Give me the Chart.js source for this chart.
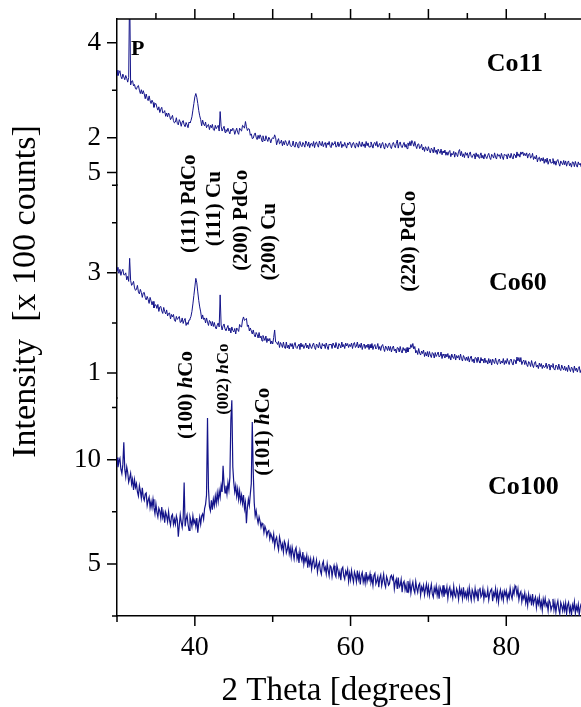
<!DOCTYPE html>
<html>
<head>
<meta charset="utf-8">
<script src="https://cdn.jsdelivr.net/npm/chart.js@4.4.1/dist/chart.umd.min.js"></script>
<style>
  html, body { margin: 0; padding: 0; background: #fff; overflow: hidden; }
  #xrd { display: block; }
</style>
</head>
<body>
<canvas id="xrd" width="581" height="707"></canvas>
<script>
// scan grid: 2-theta from 30 deg in 0.125 deg steps
const START = 30, STEP = 0.125;

// intensities in hundreds of counts, one row per 2.5 deg
const co11 = [
  3.42, 3.31, 3.36, 3.41, 3.29, 3.24, 3.34, 3.28, 3.22, 3.31, 3.25, 3.17, 3.27, 5.20, 3.11, 3.19, 3.20, 3.09, 3.12, 3.03,
  3.02, 3.08, 3.10, 3.00, 2.93, 3.01, 2.92, 2.99, 2.92, 2.82, 2.92, 2.83, 2.78, 2.88, 2.78, 2.72, 2.79, 2.74, 2.64, 2.71,
  2.72, 2.64, 2.58, 2.65, 2.53, 2.60, 2.64, 2.52, 2.53, 2.57, 2.45, 2.52, 2.44, 2.52, 2.47, 2.38, 2.42, 2.47, 2.36, 2.31,
  2.33, 2.42, 2.30, 2.27, 2.38, 2.33, 2.24, 2.33, 2.36, 2.27, 2.23, 2.32, 2.27, 2.21, 2.33, 2.31, 2.36, 2.44, 2.58, 2.72,
  2.86, 2.93, 2.85, 2.72, 2.57, 2.46, 2.38, 2.25, 2.37, 2.29, 2.25, 2.33, 2.21, 2.26, 2.28, 2.17, 2.26, 2.21, 2.28, 2.17,
  2.15, 2.26, 2.19, 2.23, 2.26, 2.14, 2.55, 2.24, 2.14, 2.19, 2.24, 2.11, 2.17, 2.13, 2.20, 2.13, 2.08, 2.18, 2.14, 2.20,
  2.17, 2.07, 2.14, 2.20, 2.11, 2.07, 2.20, 2.16, 2.14, 2.26, 2.24, 2.20, 2.34, 2.23, 2.15, 2.19, 2.18, 2.05, 2.08, 1.98,
  1.99, 2.06, 2.10, 2.01, 1.96, 2.05, 1.98, 2.06, 2.01, 1.92, 2.04, 1.96, 1.93, 2.04, 1.97, 1.92, 2.01, 1.97, 1.89, 1.97,
  2.00, 1.98, 2.06, 2.00, 1.85, 1.93, 1.98, 1.87, 1.89, 1.95, 1.83, 1.92, 1.85, 1.94, 1.90, 1.83, 1.87, 1.94, 1.84, 1.81,
  1.83, 1.93, 1.82, 1.80, 1.91, 1.87, 1.79, 1.89, 1.92, 1.84, 1.81, 1.90, 1.86, 1.80, 1.93, 1.88, 1.82, 1.91, 1.79, 1.87,
  1.88, 1.82, 1.92, 1.79, 1.89, 1.91, 1.84, 1.80, 1.93, 1.86, 1.83, 1.92, 1.81, 1.87, 1.90, 1.79, 1.89, 1.85, 1.92, 1.82,
  1.79, 1.90, 1.84, 1.88, 1.92, 1.80, 1.82, 1.91, 1.81, 1.87, 1.92, 1.79, 1.86, 1.82, 1.90, 1.83, 1.78, 1.89, 1.85, 1.91,
  1.88, 1.79, 1.87, 1.90, 1.83, 1.78, 1.89, 1.86, 1.80, 1.92, 1.84, 1.81, 1.91, 1.82, 1.87, 1.79, 1.92, 1.83, 1.89, 1.80,
  1.81, 1.91, 1.85, 1.78, 1.88, 1.90, 1.83, 1.92, 1.80, 1.84, 1.88, 1.78, 1.86, 1.90, 1.81, 1.76, 1.88, 1.84, 1.79, 1.86,
  1.89, 1.81, 1.77, 1.86, 1.90, 1.83, 1.79, 1.88, 1.95, 1.78, 1.87, 1.91, 1.82, 1.79, 1.85, 1.90, 1.80, 1.86, 1.77, 1.89,
  1.83, 1.92, 1.83, 1.94, 1.89, 1.82, 1.92, 1.83, 1.77, 1.86, 1.87, 1.77, 1.80, 1.86, 1.74, 1.80, 1.71, 1.81, 1.77, 1.72,
  1.81, 1.73, 1.68, 1.78, 1.75, 1.68, 1.80, 1.69, 1.74, 1.65, 1.76, 1.71, 1.67, 1.76, 1.64, 1.72, 1.68, 1.74, 1.63, 1.70,
  1.63, 1.70, 1.73, 1.60, 1.67, 1.64, 1.71, 1.59, 1.69, 1.65, 1.60, 1.71, 1.75, 1.62, 1.71, 1.60, 1.66, 1.58, 1.69, 1.63,
  1.68, 1.57, 1.65, 1.70, 1.60, 1.58, 1.64, 1.66, 1.55, 1.68, 1.60, 1.65, 1.57, 1.62, 1.68, 1.57, 1.63, 1.55, 1.66, 1.60,
  1.56, 1.63, 1.67, 1.58, 1.54, 1.65, 1.62, 1.57, 1.68, 1.59, 1.55, 1.66, 1.61, 1.64, 1.56, 1.67, 1.60, 1.54, 1.65, 1.63,
  1.64, 1.55, 1.66, 1.61, 1.57, 1.67, 1.59, 1.55, 1.66, 1.63, 1.58, 1.70, 1.61, 1.66, 1.59, 1.70, 1.65, 1.70, 1.62, 1.67,
  1.62, 1.68, 1.57, 1.65, 1.67, 1.57, 1.59, 1.67, 1.54, 1.60, 1.55, 1.63, 1.49, 1.57, 1.59, 1.50, 1.57, 1.51, 1.58, 1.46,
  1.55, 1.48, 1.57, 1.44, 1.51, 1.55, 1.46, 1.48, 1.56, 1.44, 1.51, 1.42, 1.51, 1.54, 1.46, 1.40, 1.51, 1.47, 1.43, 1.52,
  1.43, 1.51, 1.40, 1.48, 1.51, 1.41, 1.46, 1.38, 1.49, 1.48, 1.39, 1.50, 1.42, 1.38, 1.49, 1.43, 1.46, 1.38, 1.49, 1.40,
  1.44
];
const co60 = [
  3.11, 3.04, 2.99, 3.07, 2.95, 3.03, 3.07, 2.96, 2.96, 3.00, 2.86, 2.93, 2.83, 3.29, 2.85, 2.75, 2.78, 2.83, 2.70, 2.65,
  2.67, 2.75, 2.62, 2.58, 2.67, 2.61, 2.51, 2.60, 2.61, 2.51, 2.46, 2.53, 2.47, 2.39, 2.51, 2.44, 2.36, 2.43, 2.30, 2.36,
  2.36, 2.29, 2.37, 2.23, 2.32, 2.33, 2.24, 2.19, 2.31, 2.23, 2.18, 2.26, 2.14, 2.19, 2.20, 2.08, 2.17, 2.12, 2.17, 2.06,
  2.03, 2.13, 2.07, 2.10, 2.13, 2.01, 2.02, 2.10, 1.99, 2.05, 2.09, 1.95, 2.01, 1.97, 2.06, 2.08, 2.13, 2.23, 2.38, 2.55,
  2.72, 2.89, 2.80, 2.62, 2.45, 2.32, 2.22, 2.08, 2.16, 2.07, 2.10, 2.00, 2.10, 2.02, 1.95, 2.05, 2.02, 1.94, 2.03, 1.93,
  2.01, 1.92, 1.88, 1.96, 2.00, 1.92, 2.56, 1.96, 1.86, 1.94, 1.98, 1.88, 1.85, 1.90, 1.95, 1.84, 1.90, 1.80, 1.92, 1.85,
  1.82, 1.89, 1.78, 1.90, 1.87, 1.83, 1.97, 1.93, 1.92, 2.06, 2.12, 2.05, 2.07, 2.09, 1.93, 1.96, 1.84, 1.90, 1.84, 1.78,
  1.86, 1.77, 1.72, 1.81, 1.77, 1.70, 1.81, 1.70, 1.74, 1.64, 1.75, 1.70, 1.65, 1.74, 1.61, 1.69, 1.64, 1.69, 1.58, 1.64,
  1.58, 1.71, 1.86, 1.62, 1.61, 1.57, 1.63, 1.51, 1.61, 1.57, 1.51, 1.62, 1.52, 1.49, 1.62, 1.50, 1.56, 1.48, 1.59, 1.53,
  1.59, 1.48, 1.56, 1.61, 1.51, 1.49, 1.55, 1.58, 1.47, 1.60, 1.52, 1.57, 1.49, 1.54, 1.60, 1.50, 1.56, 1.48, 1.59, 1.53,
  1.49, 1.56, 1.60, 1.51, 1.47, 1.58, 1.55, 1.50, 1.61, 1.52, 1.48, 1.59, 1.54, 1.57, 1.49, 1.60, 1.53, 1.47, 1.58, 1.56,
  1.58, 1.49, 1.60, 1.55, 1.51, 1.61, 1.53, 1.48, 1.59, 1.56, 1.50, 1.62, 1.52, 1.57, 1.49, 1.60, 1.54, 1.59, 1.51, 1.57,
  1.53, 1.60, 1.49, 1.58, 1.61, 1.51, 1.54, 1.62, 1.50, 1.57, 1.51, 1.60, 1.47, 1.55, 1.58, 1.49, 1.56, 1.51, 1.58, 1.47,
  1.57, 1.50, 1.59, 1.47, 1.54, 1.57, 1.48, 1.51, 1.59, 1.47, 1.53, 1.45, 1.54, 1.57, 1.49, 1.43, 1.54, 1.50, 1.45, 1.54,
  1.45, 1.53, 1.42, 1.50, 1.54, 1.44, 1.48, 1.40, 1.51, 1.50, 1.42, 1.53, 1.44, 1.40, 1.51, 1.45, 1.49, 1.40, 1.51, 1.42,
  1.50, 1.48, 1.57, 1.51, 1.59, 1.48, 1.53, 1.40, 1.45, 1.37, 1.49, 1.40, 1.36, 1.44, 1.39, 1.46, 1.33, 1.41, 1.34, 1.43,
  1.32, 1.43, 1.36, 1.31, 1.41, 1.39, 1.30, 1.41, 1.33, 1.37, 1.42, 1.32, 1.34, 1.42, 1.29, 1.38, 1.35, 1.30, 1.38, 1.32,
  1.39, 1.29, 1.35, 1.26, 1.38, 1.32, 1.29, 1.38, 1.26, 1.35, 1.30, 1.35, 1.26, 1.38, 1.29, 1.24, 1.35, 1.31, 1.25, 1.32,
  1.25, 1.33, 1.22, 1.30, 1.34, 1.23, 1.28, 1.20, 1.31, 1.30, 1.21, 1.32, 1.24, 1.20, 1.31, 1.24, 1.28, 1.20, 1.30, 1.21,
  1.25, 1.18, 1.29, 1.20, 1.27, 1.16, 1.28, 1.23, 1.19, 1.30, 1.21, 1.17, 1.26, 1.28, 1.18, 1.24, 1.20, 1.29, 1.17, 1.25,
  1.19, 1.29, 1.22, 1.17, 1.26, 1.28, 1.20, 1.16, 1.27, 1.25, 1.19, 1.32, 1.24, 1.31, 1.22, 1.31, 1.17, 1.23, 1.26, 1.17,
  1.25, 1.17, 1.13, 1.23, 1.20, 1.13, 1.25, 1.16, 1.11, 1.20, 1.23, 1.12, 1.16, 1.09, 1.20, 1.13, 1.19, 1.09, 1.16, 1.11,
  1.12, 1.20, 1.09, 1.15, 1.18, 1.06, 1.16, 1.12, 1.19, 1.08, 1.06, 1.16, 1.14, 1.07, 1.18, 1.08, 1.05, 1.16, 1.10, 1.06,
  1.14, 1.05, 1.11, 1.03, 1.16, 1.08, 1.03, 1.12, 1.09, 1.01, 1.14, 1.05, 1.10, 1.02, 1.09, 1.13, 1.01, 1.07, 1.03, 1.10,
  1.05
];
const co100 = [
  10.10, 9.64, 9.92, 10.06, 9.54, 9.33, 9.76, 10.83, 9.53, 9.17, 9.65, 9.39, 8.92, 9.11, 9.34, 8.83, 9.06, 8.55, 9.03, 8.67,
  8.85, 8.45, 8.25, 8.75, 8.50, 8.15, 8.65, 8.20, 8.05, 8.35, 8.40, 7.80, 8.05, 8.20, 7.70, 8.00, 7.70, 8.10, 7.70, 7.40,
  7.87, 7.48, 7.25, 7.67, 7.53, 7.20, 7.72, 7.23, 7.45, 6.97, 7.48, 7.30, 7.02, 7.50, 7.08, 6.86, 7.29, 7.37, 6.90, 7.14,
  6.90, 7.30, 7.10, 6.30, 6.85, 7.35, 7.00, 6.75, 7.20, 8.90, 6.80, 7.15, 7.35, 6.90, 6.60, 7.25, 7.05, 6.80, 7.30, 6.95,
  7.10, 6.80, 7.20, 6.50, 6.95, 7.25, 6.90, 7.30, 7.40, 7.15, 7.65, 7.85, 8.30, 12.00, 8.60, 7.75, 7.55, 8.05, 7.60, 8.10,
  7.80, 8.25, 7.90, 8.40, 8.00, 8.50, 8.20, 8.75, 8.45, 9.70, 8.85, 8.40, 8.75, 8.35, 8.90, 8.55, 9.15, 11.90, 12.85, 9.65,
  8.90, 8.45, 8.75, 8.25, 8.60, 8.10, 8.50, 8.00, 8.30, 7.90, 8.30, 7.65, 7.95, 6.95, 7.70, 8.10, 7.80, 8.35, 8.85, 11.80,
  9.40, 7.95, 7.30, 7.55, 7.20, 6.95, 7.25, 7.05, 6.75, 6.95, 6.85, 6.50, 6.80, 6.65, 6.35, 6.55, 6.60, 6.20, 6.45, 6.30,
  6.10, 6.42, 5.84, 6.16, 6.28, 5.90, 5.67, 6.29, 6.06, 5.73, 5.95, 5.57, 6.09, 5.96, 5.53, 5.70, 6.02, 5.49, 5.76, 5.33,
  5.80, 5.52, 5.24, 5.66, 5.78, 5.25, 5.47, 5.04, 5.61, 5.33, 5.15, 5.57, 4.99, 5.31, 5.13, 5.40, 4.82, 5.24, 4.96, 5.23,
  4.75, 5.08, 5.27, 4.80, 4.89, 5.17, 4.61, 4.94, 5.08, 4.66, 4.50, 4.98, 5.12, 4.70, 4.84, 4.52, 5.01, 4.69, 4.43, 4.91,
  4.85, 4.39, 4.72, 4.91, 4.50, 4.38, 4.92, 4.71, 4.40, 4.63, 4.22, 4.76, 4.84, 4.43, 4.27, 4.65, 4.49, 4.73, 4.16, 4.55,
  4.24, 4.68, 4.37, 4.12, 4.61, 4.45, 4.14, 4.68, 4.27, 4.52, 4.01, 4.45, 4.59, 4.13, 4.38, 4.07, 4.61, 4.15, 4.40, 4.24,
  4.52, 4.12, 4.31, 3.96, 4.45, 4.55, 4.04, 4.19, 4.38, 3.88, 4.32, 4.47, 3.96, 4.21, 4.50, 4.05, 3.89, 4.39, 4.23, 3.98,
  4.05, 4.37, 4.45, 4.25, 4.40, 3.80, 4.13, 4.27, 3.80, 4.34, 3.88, 3.97, 4.25, 3.64, 4.08, 4.17, 3.76, 4.00, 3.64, 4.18,
  3.77, 4.11, 3.60, 3.94, 4.13, 3.77, 3.61, 4.15, 3.84, 3.63, 3.97, 4.06, 3.50, 3.89, 3.73, 3.97, 3.51, 3.80, 4.04, 3.58,
  3.92, 3.47, 3.76, 4.01, 3.56, 3.40, 3.85, 3.65, 3.94, 3.49, 3.79, 3.33, 3.88, 3.73, 3.52, 3.97, 3.42, 3.76, 3.61, 3.90,
  3.35, 3.75, 3.89, 3.49, 3.68, 3.38, 3.92, 3.52, 3.41, 3.81, 3.66, 3.30, 3.85, 3.54, 3.74, 3.34, 3.88, 3.43, 3.62, 3.37,
  3.71, 3.36, 3.86, 3.51, 3.26, 3.76, 3.61, 3.31, 3.81, 3.46, 3.66, 3.21, 3.76, 3.86, 3.41, 3.51, 3.81, 3.31, 3.66, 3.41,
  3.42, 3.77, 3.27, 3.57, 3.72, 3.80, 3.21, 3.61, 3.46, 3.81, 3.31, 3.66, 3.16, 3.56, 3.76, 3.36, 3.61, 3.26, 3.70, 3.50,
  3.70, 3.25, 3.56, 3.37, 3.83, 3.50, 3.33, 3.77, 3.56, 3.95, 3.84, 3.52, 3.80, 3.28, 3.57, 3.67, 3.18, 3.50, 3.33, 3.61,
  3.13, 3.42, 3.01, 3.54, 3.23, 3.42, 3.01, 3.55, 3.08, 3.27, 3.41, 2.90, 3.29, 3.07, 3.41, 2.95, 3.19, 2.78, 3.31, 3.05,
  3.34, 2.98, 3.12, 2.76, 3.26, 3.15, 2.79, 2.98, 3.32, 2.81, 3.15, 2.69, 3.04, 3.23, 2.82, 2.61, 3.15, 2.99, 2.74, 3.08,
  2.77, 3.12, 2.61, 3.01, 3.15, 2.70, 2.94, 2.54, 3.03, 2.83, 3.18, 2.62, 2.97, 2.76, 3.06, 2.56, 2.90, 3.10, 2.64, 2.94,
  2.82
];
const twoTheta = co11.map((_, i) => START + i * STEP);

// axis ticks (all) and the ones carrying a number
const xTicks = [30, 40, 50, 60, 70, 80];
const xLabels = [40, 60, 80];
const topTicks = [1, 2, 3, 4];
const topLabels = [2, 4];
const midTicks = [1, 2, 3, 4, 5];
const midLabels = [1, 3, 5];
const botTicks = [2.5, 5, 7.5, 10, 12.5];
const botLabels = [5, 10];

// reflection labels, placed in data units of their panel
const peakNotes = [
  { text: "(111) PdCo", x: 39.3, y: 4.38, axis: "yMid", size: 21 },
  { text: "(111) Cu", x: 42.5, y: 4.28, axis: "yMid", size: 21 },
  { text: "(200) PdCo", x: 46.0, y: 4.05, axis: "yMid", size: 21 },
  { text: "(200) Cu", x: 49.6, y: 3.62, axis: "yMid", size: 21 },
  { text: "(220) PdCo", x: 67.6, y: 3.63, axis: "yMid", size: 21 },
  { text: "(100) hCo", x: 38.9, y: 13.1, axis: "yBot", size: 21, italic: "h" },
  { text: "(002) hCo", x: 43.65, y: 13.86, axis: "yBot", size: 17, italic: "h" },
  { text: "(101) hCo", x: 48.85, y: 11.34, axis: "yBot", size: 21, italic: "h" }
];
const sampleNames = [
  { text: "P", x: 32.65, y: 3.86, axis: "yTop", size: 22 },
  { text: "Co11", x: 81.1, y: 3.55, axis: "yTop", size: 26 },
  { text: "Co60", x: 81.5, y: 2.80, axis: "yMid", size: 26 },
  { text: "Co100", x: 82.2, y: 8.66, axis: "yBot", size: 26 }
];

const SERIF = "'Liberation Serif', 'Times New Roman', serif";
const NAVY = "#14148a";

const series = (ys) => ys.map((y, i) => ({ x: twoTheta[i], y: y }));

function panelAxis(min, max, ticks, labels, weight) {
  return {
    type: "linear",
    position: "left",
    stack: "xrd",
    stackWeight: weight,
    min: min,
    max: max,
    afterFit: (s) => {
      s.width = 117;
      s.paddingTop = 0;
      s.paddingBottom = 0;
    },
    afterBuildTicks: (s) => { s.ticks = ticks.map((v) => ({ value: v })); },
    grid: { display: false, drawTicks: false },
    border: { display: true, color: "#000", width: 1.5 },
    ticks: {
      autoSkip: false,
      padding: 16,
      color: "#000",
      font: { family: SERIF, size: 27 },
      callback: (v) => (labels.includes(v) ? String(v) : "")
    }
  };
}

// draws text pieces in a row, italic where asked, centred on (cx, cy)
function drawNote(ctx, note, cx, cy, rotate) {
  const bold = "bold " + note.size + "px " + SERIF;
  const boldIt = "italic bold " + note.size + "px " + SERIF;
  let runs = [{ t: note.text, f: bold }];
  if (note.italic) {
    const k = note.text.indexOf(note.italic);
    runs = [
      { t: note.text.slice(0, k), f: bold },
      { t: note.italic, f: boldIt },
      { t: note.text.slice(k + note.italic.length), f: bold }
    ];
  }
  ctx.save();
  ctx.translate(cx, cy);
  if (rotate) ctx.rotate(-Math.PI / 2);
  ctx.textBaseline = "middle";
  ctx.textAlign = "left";
  let total = 0;
  runs.forEach((r) => { ctx.font = r.f; r.w = ctx.measureText(r.t).width; total += r.w; });
  let px = -total / 2;
  runs.forEach((r) => { ctx.font = r.f; ctx.fillText(r.t, px, 0); px += r.w; });
  ctx.restore();
}

const decor = {
  id: "decor",
  afterDraw(chart) {
    const { ctx, chartArea: a, scales } = chart;
    const x = scales.x;
    ctx.save();
    ctx.strokeStyle = "#000";
    ctx.lineWidth = 1.5;
    ctx.beginPath();
    ctx.moveTo(a.left, a.top);
    ctx.lineTo(a.right + 2, a.top);
    xTicks.forEach((v) => {
      const p = x.getPixelForValue(v);
      const len = xLabels.includes(v) ? 10 : 6;
      ctx.moveTo(p, a.bottom);
      ctx.lineTo(p, a.bottom + len);
    });
    for (let v = 35; v < 90; v += 5) {
      const p = x.getPixelForValue(v);
      const len = v % 10 === 0 ? 10 : 6;
      ctx.moveTo(p, a.top);
      ctx.lineTo(p, a.top - len);
    }
    [["yTop", topTicks, topLabels], ["yMid", midTicks, midLabels], ["yBot", botTicks, botLabels]].forEach(([id, ticks, labels]) => {
      const s = scales[id];
      ticks.forEach((v) => {
        const p = s.getPixelForValue(v);
        const len = labels.includes(v) ? 10 : 5;
        ctx.moveTo(a.left, p);
        ctx.lineTo(a.left - len, p);
      });
    });
    ctx.stroke();

    ctx.fillStyle = "#000";
    peakNotes.forEach((n) => {
      drawNote(ctx, n, x.getPixelForValue(n.x), scales[n.axis].getPixelForValue(n.y), true);
    });
    sampleNames.forEach((n) => {
      drawNote(ctx, n, x.getPixelForValue(n.x), scales[n.axis].getPixelForValue(n.y), false);
    });

    // axis titles
    ctx.textAlign = "center";
    ctx.textBaseline = "alphabetic";
    ctx.font = "33px " + SERIF;
    ctx.fillText("2 Theta [degrees]", 337, 700);
    ctx.save();
    ctx.translate(35, 291.5);
    ctx.rotate(-Math.PI / 2);
    ctx.font = "34px " + SERIF;
    ctx.fillText("Intensity  [x 100 counts]", 0, 0);
    ctx.restore();
    ctx.restore();
  }
};

new Chart(document.getElementById("xrd"), {
  type: "line",
  data: {
    datasets: [
      { label: "Co11", data: series(co11), yAxisID: "yTop", borderColor: NAVY, borderWidth: 1, pointRadius: 0 },
      { label: "Co60", data: series(co60), yAxisID: "yMid", borderColor: NAVY, borderWidth: 1, pointRadius: 0 },
      { label: "Co100", data: series(co100), yAxisID: "yBot", borderColor: NAVY, borderWidth: 1.2, pointRadius: 0 }
    ]
  },
  options: {
    responsive: false,
    animation: false,
    layout: { padding: { top: 19, right: 0, bottom: 0, left: 0 } },
    elements: { line: { tension: 0 } },
    plugins: { legend: { display: false }, tooltip: { enabled: false } },
    scales: {
      x: {
        type: "linear",
        position: "bottom",
        min: 30,
        max: 89.6,
        afterFit: (s) => {
          s.height = 91;
          s.paddingLeft = 0;
          s.paddingRight = 0;
        },
        afterBuildTicks: (s) => { s.ticks = xTicks.map((v) => ({ value: v })); },
        grid: { display: false, drawTicks: false },
        border: { display: true, color: "#000", width: 1.5 },
        ticks: {
          autoSkip: false,
          maxRotation: 0,
          padding: 15,
          color: "#000",
          font: { family: SERIF, size: 28 },
          callback: (v) => (xLabels.includes(v) ? String(v) : "")
        }
      },
      yBot: panelAxis(2.5, 12.95, botTicks, botLabels, 218),
      yMid: panelAxis(0.5, 4.75, midTicks, midLabels, 213.1),
      yTop: panelAxis(1.0, 4.5, topTicks, topLabels, 166.25)
    }
  },
  plugins: [decor]
});
</script>
</body>
</html>
